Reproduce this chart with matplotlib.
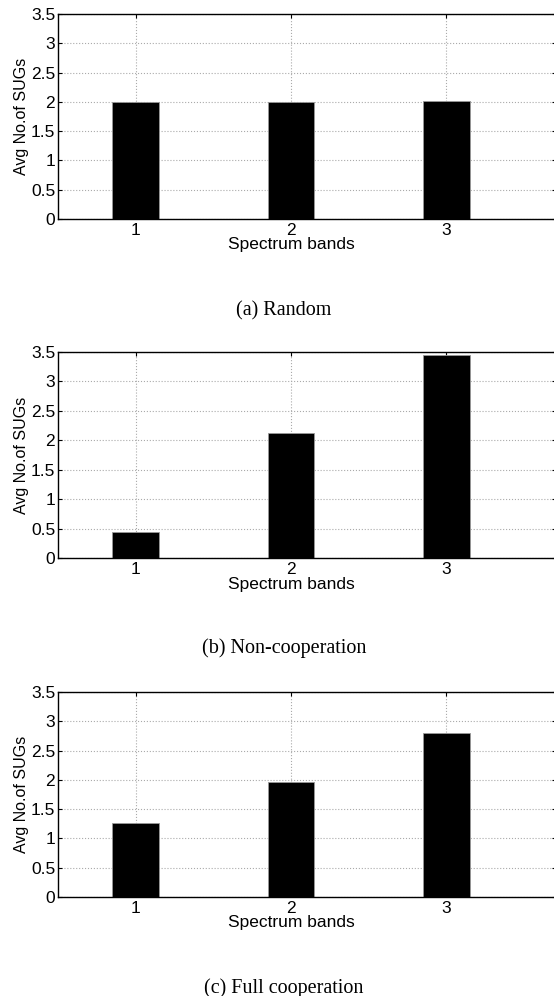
import numpy as np
import matplotlib
matplotlib.use("Agg")
import matplotlib.pyplot as plt

plt.rcParams['font.family'] = ['Liberation Sans', 'DejaVu Sans']

bands = [1, 2, 3]
random_vals = [2.00, 1.99, 2.01]
noncoop_vals = [0.44, 2.13, 3.45]
fullcoop_vals = [1.26, 1.96, 2.80]
captions = ['(a) Random', '(b) Non-cooperation', '(c) Full cooperation']
yticks = [0, 0.5, 1, 1.5, 2, 2.5, 3, 3.5]

fig = plt.figure(figsize=(5.54, 9.96), dpi=100)

# axes boxes in pixels: top, bottom (measured from the top of the picture)
boxes = [(14, 219), (352, 558), (692, 897)]
cap_y = [311, 648, 988]
W, H = 554, 996
left_px, right_px = 58, 556
xmin, xmax = 0.5, 3.705

for vals, (top, bot), cap, cy in zip([random_vals, noncoop_vals, fullcoop_vals], boxes, captions, cap_y):
    ax = fig.add_axes([left_px / W, 1 - bot / H, (right_px - left_px) / W, (bot - top) / H])
    ax.set_axisbelow(True)
    ax.bar(bands, vals, width=0.3, color='black', edgecolor='#999999', linewidth=0.6)
    ax.set_xlim(xmin, xmax)
    ax.set_ylim(0, 3.5)
    ax.set_xticks(bands)
    ax.set_yticks(yticks)
    ax.set_yticklabels(['0', '0.5', '1', '1.5', '2', '2.5', '3', '3.5'])
    ax.grid(True, linestyle=':', color='#aaaaaa', linewidth=0.8)
    ax.tick_params(direction='in', length=3, width=0.8, labelsize=12.5, pad=2,
                   top=True, right=True)
    ax.tick_params(axis='x', pad=3)
    for s in ax.spines.values():
        s.set_linewidth(1.0)
    ax.set_xlabel('Spectrum bands', fontsize=12.5, va='top')
    ax.xaxis.set_label_coords((2 - xmin) / (xmax - xmin), -0.09)
    ax.set_ylabel('Avg No.of SUGs', fontsize=11.5, labelpad=1)
    fig.text(284 / W, 1 - cy / H, cap, ha='center', va='center',
             fontsize=14.5, family=['Liberation Serif', 'DejaVu Serif'])

fig.savefig('out.png', dpi=100)
